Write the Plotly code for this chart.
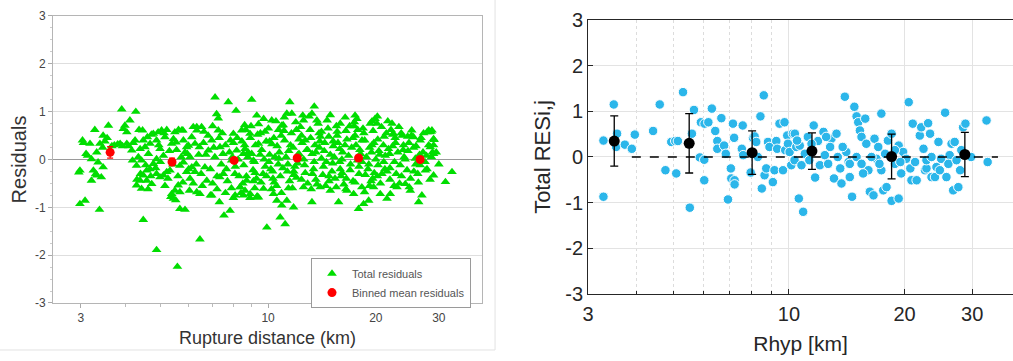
import math
import plotly.graph_objects as go

# ---------------- Left panel data: total residuals (green triangles) ----------------
tri_dist = [
    3.90, 4.27, 4.11, 3.98, 4.03, 3.94, 3.58, 3.28, 3.03, 3.46,
    3.39, 3.32, 3.18, 3.10, 3.21, 2.98, 3.25, 3.32, 3.21, 3.46,
    3.35, 2.98, 3.08, 3.38, 3.86, 4.03, 4.16, 4.25, 4.46, 4.48,
    4.53, 4.39, 4.34, 4.18, 4.29, 4.43, 4.63, 4.68, 4.78, 4.88,
    4.93, 5.04, 5.15, 5.21, 5.38, 5.44, 5.49, 5.53, 5.74, 5.80,
    5.86, 5.99, 6.12, 6.25, 6.32, 4.99, 5.10, 4.88, 4.78, 4.68,
    4.58, 4.48, 4.39, 4.29, 4.43, 4.58, 4.73, 4.88, 4.99, 5.10,
    5.21, 5.32, 5.67, 5.80, 5.92, 6.05, 6.12, 6.25, 5.38, 5.44,
    5.49, 5.67, 5.61, 5.67, 5.86, 6.03, 6.32, 4.48, 4.88, 5.58,
    3.50, 3.45, 3.05, 3.13, 3.55, 2.96, 3.30, 3.42, 3.66, 3.72,
    3.80, 3.92, 4.08, 4.20, 4.36, 4.60, 4.72, 4.95, 5.12, 5.30,
    5.55, 5.72, 5.95, 4.40, 4.55, 4.70, 4.85, 5.00, 5.25, 5.60,
    5.78, 6.00, 5.35, 5.52, 4.62, 4.30, 5.15, 6.18, 5.42, 5.62,
    6.45, 6.66, 6.81, 6.74, 6.96, 7.11, 7.18, 7.26, 7.34, 7.31,
    7.50, 7.53, 7.74, 7.83, 7.91, 8.00, 8.08, 8.14, 8.17, 8.35,
    8.44, 8.53, 8.71, 8.90, 9.00, 9.10, 9.30, 9.40, 6.18, 6.32,
    6.52, 6.43, 6.45, 6.05, 5.92, 5.78, 7.26, 6.96, 8.09, 8.53,
    9.32, 9.40, 7.33, 6.60, 6.70, 6.90, 7.00, 7.10, 7.20, 7.30,
    7.40, 7.60, 7.70, 7.80, 7.90, 8.00, 8.10, 8.20, 8.30, 6.30,
    6.40, 6.50, 6.80, 7.00, 7.45, 7.65, 7.95, 8.25, 6.55, 6.90,
    7.20, 7.60, 8.40, 8.00, 9.92, 6.62, 7.05, 7.48, 7.85, 8.60,
    11.50, 11.28, 11.65, 13.46, 13.26, 14.92, 17.50, 19.90, 20.15, 22.20,
    25.20, 28.10, 28.70, 29.00, 25.50, 23.70, 22.40, 9.30, 10.24, 10.92,
    12.56, 13.69, 15.91, 19.30, 8.35, 8.62, 8.91, 9.40, 9.71, 10.35,
    10.58, 10.81, 10.92, 11.16, 11.28, 11.78, 12.56, 13.26, 13.99, 14.92,
    15.74, 16.61, 17.34, 17.90, 18.49, 19.10, 19.72, 20.58, 21.49, 21.95,
    22.92, 24.18, 24.97, 26.35, 26.90, 32.65, 31.30, 29.00, 27.50, 29.00,
    28.40, 27.80, 28.30, 29.10, 28.80,
    8.45, 8.55, 8.62, 8.70, 8.78, 8.50, 8.66,
    8.92, 9.00, 9.08, 9.15, 9.22, 9.28, 8.96, 9.18,
    9.52, 9.60, 9.68, 9.75, 9.82, 9.88, 9.56, 9.72,
    10.02, 10.10, 10.18, 10.25, 10.32, 10.38, 10.06, 10.22,
    10.52, 10.60, 10.68, 10.75, 10.82, 10.88, 10.56, 10.72,
    11.02, 11.12, 11.22, 11.32, 11.42, 11.48, 11.08, 11.36,
    11.62, 11.75, 11.88, 12.00, 12.12, 12.20, 11.70, 11.95,
    12.32, 12.45, 12.58, 12.70, 12.82, 12.90, 12.40, 12.65,
    13.02, 13.15, 13.28, 13.40, 13.52, 13.60, 13.10, 13.45,
    13.80, 13.95, 14.10, 14.22, 14.35, 14.48, 13.88, 14.28,
    14.62, 14.78, 14.92, 15.08, 15.22, 15.38, 14.70, 15.15,
    15.52, 15.68, 15.85, 16.00, 16.15, 16.28, 15.60, 16.08,
    16.42, 16.60, 16.78, 16.95, 17.12, 17.28, 16.50, 17.00,
    17.42, 17.60, 17.78, 17.95, 18.12, 18.28, 17.50, 18.05,
    18.42, 18.62, 18.82, 19.02, 19.22, 19.40, 18.52, 19.12,
    19.52, 19.75, 20.00, 20.20, 20.40, 20.60, 19.65, 20.30,
    20.75, 21.00, 21.25, 21.50, 21.70, 21.90, 21.10,
    22.05, 22.30, 22.55, 22.80, 23.05, 23.30, 22.65,
    23.55, 23.85, 24.15, 24.45, 24.75, 25.00,
    25.15, 25.50, 25.85, 26.20, 26.50, 26.60,
    26.75, 27.10, 27.45, 27.80, 28.10, 28.35,
    28.55, 29.00, 29.50, 30.00,
    8.80, 9.35, 9.90, 10.45, 11.00, 11.55, 12.10, 12.70, 13.30, 13.90,
    14.55, 15.20, 15.85, 16.55, 17.25, 17.95, 18.70, 19.45, 20.25, 21.05,
    21.85, 22.70, 23.60, 24.55, 25.55, 26.60, 27.70, 9.10, 10.70, 12.40,
    14.10, 15.90, 17.80, 19.80, 21.90, 24.00, 11.80, 13.60, 15.50, 17.50,
    19.50, 21.40, 23.20, 25.80, 10.30, 12.00, 14.80, 16.40, 18.30, 20.80,
    8.60, 9.20, 9.80, 10.40, 11.10, 11.80, 12.50, 13.20, 14.00, 14.80,
    15.60, 16.50, 17.40, 18.30, 19.20, 20.20, 21.20, 22.30, 23.40, 24.60,
    25.90, 27.20, 9.50, 10.90, 12.20, 13.70, 15.30, 16.90, 18.60, 20.50,
    22.50, 24.80, 8.90, 10.10, 11.40, 12.90, 14.40, 16.10, 17.70, 19.60,
    21.60, 23.90, 26.30, 28.60,
]
tri_resid = [
    1.05, 1.00, 0.82, 0.71, 0.57, 0.64, 0.71, 0.62, 0.40, 0.50,
    0.33, 0.15, 0.33, 0.12, 0.01, -0.23, -0.23, -0.33, -0.44, -0.16,
    -0.06, -0.93, -0.86, -1.05, 0.33, 0.33, 0.19, 0.40, 0.61, 0.40,
    0.26, 0.22, 0.05, -0.02, -0.13, -0.02, 0.12, 0.33, 0.54, 0.40,
    0.57, 0.61, 0.47, 0.62, 0.33, 0.43, 0.57, 0.36, 0.61, 0.40,
    0.15, 0.29, 0.47, 0.33, 0.61, 0.22, 0.08, 0.01, -0.09, -0.20,
    -0.23, -0.33, -0.44, -0.54, -0.61, -0.44, -0.51, -0.30, -0.37, -0.33,
    -0.26, -0.23, -0.13, -0.06, -0.26, -0.40, -0.16, -0.26, -0.72, -0.82,
    -0.65, -0.68, -0.54, -1.03, -1.05, -0.65, -0.68, -1.26, -1.89, -2.24,
    0.38, 0.25, 0.35, 0.08, 0.45, -0.27, -0.30, -0.37, 0.28, 0.30,
    0.32, 0.28, 0.28, 0.35, 0.62, 0.47, 0.52, 0.30, 0.55, 0.18,
    0.20, 0.05, 0.12, -0.30, -0.12, -0.35, -0.18, -0.05, -0.40, -0.35,
    -0.48, -0.20, -0.78, -0.85, -0.62, -0.42, -0.55, -0.50, -0.10, 0.62,
    -1.67, -0.16, 0.19, -0.44, 0.40, 1.30, 0.95, 0.61, 0.26, -0.89,
    -0.30, -1.17, 1.20, -1.07, -0.02, 0.54, -0.30, 1.02, 0.19, -0.58,
    0.61, 0.12, -0.44, 0.54, 1.25, -0.02, -0.79, 0.33, 0.68, 0.68,
    0.68, 0.26, -0.72, 0.05, 0.26, 0.61, 0.86, -0.75, -0.75, -0.75,
    -0.77, 0.74, -0.37, 0.35, 0.10, -0.20, -0.50, 0.05, -0.35, 0.45,
    -0.10, 0.30, -0.45, 0.15, -0.60, 0.35, -0.15, 0.45, -0.35, -0.10,
    0.10, -0.30, 0.50, 0.70, 0.55, -0.20, 0.05, 0.00, -0.55, -0.75,
    -0.62, -0.70, -0.70, -0.80, -1.42, 0.58, 0.25, 0.12, 0.40, 0.30,
    1.20, 0.96, 0.96, 1.11, 0.96, 0.93, 0.92, 0.85, 0.75, 0.75,
    0.61, 0.61, 0.61, 0.43, 0.47, 0.50, 0.54, 0.92, 0.82, 0.71,
    0.82, 0.82, 0.75, 0.75, -0.58, -0.65, -0.72, -0.79, -0.61, -0.72,
    -0.86, -1.21, -0.96, -1.35, -0.86, -1.00, -0.58, -0.89, -0.58, -0.65,
    -0.89, -0.65, -0.72, -1.03, -0.93, -0.86, -0.58, -0.72, -0.82, -0.72,
    -0.58, -0.51, -0.65, -0.89, -0.75, -0.26, -0.47, -0.33, -0.23, 0.12,
    0.26, 0.57, 0.57, 0.41, 0.15,
    0.38, -0.12, 0.22, -0.35, 0.05, -0.50, 0.62,
    0.45, 0.12, -0.22, -0.05, 0.30, -0.40, 0.70, -0.60,
    0.55, 0.20, -0.30, 0.00, -0.15, 0.38, -0.48, 0.85,
    0.65, 0.10, -0.20, 0.32, -0.40, 0.45, -0.05, -0.62,
    0.80, 0.28, -0.10, 0.15, -0.35, 0.50, -0.55, 0.02,
    0.72, 0.40, 0.05, -0.25, 0.18, -0.45, 0.60, -0.10,
    0.55, 0.25, -0.15, -0.38, 0.10, 0.42, -0.60, 0.78,
    0.68, 0.35, 0.00, -0.28, 0.20, -0.50, 0.50, -0.12,
    0.90, 0.45, 0.12, -0.20, 0.30, -0.42, 0.62, -0.05,
    0.75, 0.38, 0.02, -0.32, 0.18, -0.55, 0.55, -0.15,
    0.82, 0.48, 0.10, -0.25, 0.28, -0.40, 0.65, -0.08,
    0.70, 0.35, -0.05, -0.35, 0.15, -0.52, 0.50, 0.00,
    0.88, 0.42, 0.08, -0.22, 0.25, -0.45, 0.60, -0.10,
    0.78, 0.30, -0.02, -0.30, 0.12, -0.58, 0.50, 0.20,
    0.65, 0.40, 0.05, -0.20, 0.25, -0.45, 0.55, -0.10,
    0.80, 0.35, 0.00, -0.35, 0.18, -0.50, 0.60, -0.12,
    0.68, 0.30, 0.08, -0.25, 0.22, -0.42, 0.48,
    0.62, 0.28, -0.05, -0.30, 0.15, -0.50, 0.45,
    0.55, 0.20, 0.00, -0.22, 0.35, -0.40,
    0.50, 0.25, -0.10, -0.30, 0.10, 0.40,
    0.45, 0.15, -0.05, -0.20, 0.30, -0.42,
    0.58, 0.30, 0.15, -0.10,
    0.15, 0.52, -0.35, 0.05, -0.18, 0.30, -0.08, 0.40, -0.30, 0.25,
    -0.05, 0.38, 0.22, -0.40, 0.45, -0.15, -0.32, 0.15, 0.42, -0.05,
    0.12, 0.35, -0.35, 0.48, -0.25, -0.12, 0.08, -0.45, 0.62, -0.42,
    0.58, -0.20, 0.62, -0.28, -0.18, 0.05, -0.25, 0.15, -0.58, -0.48,
    0.30, 0.55, 0.68, 0.02, -0.25, 0.62, -0.45, 0.30, -0.05, -0.30,
    0.72, -0.28, 0.58, -0.48, 0.88, -0.32, 0.92, -0.62, 0.48, -0.35,
    0.58, -0.62, 0.70, 0.40, -0.55, 0.90, -0.20, 0.52, -0.12, 0.18,
    0.28, 0.55, 0.10, -0.70, 0.12, -0.52, 0.05, 0.70, -0.68, 0.10,
    -0.55, -0.58, -0.80, 0.38, -0.60, 0.20, 0.35, -0.28, 0.85, -0.40,
    0.80, 0.30, -0.48, 0.05,
]

# Binned mean residuals (red)
bin_dist_left = [3.62, 5.39, 8.04, 12.06, 17.9, 26.6]
bin_mean_left = [0.15, -0.05, -0.02, 0.03, 0.03, 0.00]
bin_err_left = [0.12, 0.08, 0.04, 0.03, 0.03, 0.06]

# ---------------- Right panel data: Total RESi,j (blue circles) ----------------
res_rhyp = [
    3.29, 3.29, 3.50, 3.57, 3.55, 3.74, 3.90, 3.97, 4.43, 4.61,
    4.77, 4.94, 5.06, 5.14, 5.09, 5.30, 5.52, 5.59, 5.66, 5.86,
    5.90, 6.03, 6.02, 6.02, 6.17, 6.30, 6.43, 6.51, 6.51, 6.67,
    6.78, 6.85, 6.94, 7.06, 7.08, 7.15, 7.20, 7.22, 7.22, 7.54,
    7.58, 7.60, 7.95, 8.06, 8.14, 8.22, 8.30, 8.43, 8.50, 8.60,
    8.64, 8.73, 8.82, 8.90, 9.08, 9.17, 9.27, 9.32, 9.45, 9.65,
    9.74, 9.78, 9.90, 9.94, 10.04, 10.14, 10.24, 10.34, 10.45,
    10.36, 10.67, 10.61, 10.89, 10.78, 11.00, 11.20, 11.30, 11.60, 11.70,
    11.90, 12.04, 12.30, 12.40, 12.65, 12.90, 13.10, 13.30, 13.60, 13.70,
    13.98, 14.10, 14.30, 14.40, 14.60, 14.80, 15.00, 15.15, 15.30, 15.45,
    15.80, 15.90, 16.10, 16.24, 16.60, 16.70, 16.90, 17.08, 17.40, 17.40,
    17.60, 17.95, 18.10, 18.50, 18.50, 18.87, 19.30, 19.30, 19.60, 19.83,
    20.20, 20.50, 20.84, 21.00, 21.50, 21.91, 22.10, 22.40, 22.60, 22.80,
    23.03, 23.30, 23.50, 24.00, 24.21, 24.50, 24.90, 25.50, 25.70, 26.20,
    26.50, 26.76, 27.00, 27.60, 27.90, 28.40, 28.80, 29.80, 32.68, 32.90,
    10.50, 11.45, 12.50, 12.80, 13.40, 13.80, 14.40, 15.00, 15.45, 15.60,
    16.40, 17.20, 17.80, 18.87, 19.50, 20.70, 21.30, 22.80, 23.50, 24.70,
    26.00, 27.30, 28.10,
]
res_total = [
    -0.87, 0.36, 1.15, 0.51, 0.22, 0.27, 0.18, 0.49, 0.57, 1.15,
    -0.29, 0.33, 0.35, 0.35, -0.36, 1.42, -1.11, 0.51, 1.03, -0.01,
    0.76, 0.73, -0.06, -0.51, 0.76, 1.06, 0.57, 0.35, 0.18, 0.85,
    0.25, 0.07, -0.93, -0.25, -0.47, 0.73, 0.42, -0.51, -0.60, 0.18,
    0.69, 0.04, -0.34, 0.42, 0.45, 0.33, 0.00, 0.89, -0.69, 1.35,
    -0.40, -0.25, 0.33, 0.22, -0.55, -0.29, 0.35, 0.18, 0.73, -0.29,
    0.76, 0.15, 0.47, 0.29, 0.11, -0.18, 0.51, -0.07, 0.22,
    0.51, 0.25, -0.91, -1.20, -0.18, 0.07, 0.44, -0.07, 0.69, -0.45,
    0.35, -0.18, 0.55, 0.04, -0.15, 0.40, -0.47, 0.51, -0.25, -0.58,
    1.32, 0.11, -0.11, -0.44, -0.87, 1.10, 0.89, 0.76, 0.58, 0.44,
    0.84, 0.29, -0.29, -0.76, -0.84, 0.40, -0.04, 0.22, 0.95, -0.29,
    -0.73, -0.66, 0.36, 0.51, -0.96, -0.15, -0.91, 0.25, -0.36, 0.11,
    -0.04, 1.20, -0.51, 0.73, -0.51, 0.47, 0.65, 0.18, -0.29, -0.25,
    0.74, 0.51, -0.44, -0.44, -0.22, 0.33, -0.04, 0.97, -0.44, 0.04,
    0.29, -0.73, 0.33, -0.66, -0.29, 0.65, 0.73, 0.00, 0.80, -0.11,
    0.36, 0.29, 0.44, 0.22, 0.00, 0.22, -0.15, 0.00, -0.15, -0.36,
    0.00, -0.15, 0.07, 0.15, -0.11, -0.25, -0.11, -0.07, 0.00, -0.29,
    -0.15, -0.07, 0.15,
]

# Binned means (black) with error bars
bin_rhyp = [3.51, 5.50, 8.02, 11.48, 18.5, 28.7]
bin_mean_right = [0.35, 0.30, 0.095, 0.13, 0.01, 0.055]
bin_err_right = [0.55, 0.65, 0.475, 0.40, 0.49, 0.485]

# Zero reference line (right panel)
zero_line_x = [3.9, 35.0]
zero_line_y = [0.0, 0.0]

x_ticks = [3, 10, 20, 30]
x_ticktext = ["3", "10", "20", "30"]
y_ticks = [-3, -2, -1, 0, 1, 2, 3]
y_ticktext = ["-3", "-2", "-1", "0", "1", "2", "3"]
minor_x = [4, 5, 6, 7, 8, 9]

FONT = "Liberation Sans, Arial, sans-serif"

fig = go.Figure()

fig.add_trace(go.Scatter(
    x=tri_dist, y=tri_resid, mode="markers", name="Total residuals",
    marker=dict(symbol="triangle-up", size=8.5, color="#00dd00", line=dict(width=0)),
    xaxis="x", yaxis="y"))
fig.add_trace(go.Scatter(
    x=bin_dist_left, y=bin_mean_left, mode="markers", name="Binned mean residuals",
    marker=dict(symbol="circle", size=9, color="#ff0000"),
    error_y=dict(type="data", array=bin_err_left, color="#ff0000", thickness=1.2, width=3),
    xaxis="x", yaxis="y"))

fig.add_trace(go.Scatter(
    x=res_rhyp, y=res_total, mode="markers", showlegend=False,
    marker=dict(symbol="circle", size=9.5, color="#2bb6ea", line=dict(width=1, color="white")),
    xaxis="x2", yaxis="y2"))
fig.add_trace(go.Scatter(
    x=zero_line_x, y=zero_line_y, mode="lines", showlegend=False,
    line=dict(color="black", width=1.3, dash="dash"),
    xaxis="x2", yaxis="y2"))
fig.add_trace(go.Scatter(
    x=bin_rhyp, y=bin_mean_right, mode="markers", showlegend=False,
    marker=dict(symbol="circle", size=11, color="black"),
    error_y=dict(type="data", array=bin_err_right, color="black", thickness=1.3, width=4),
    xaxis="x2", yaxis="y2"))

fig.update_layout(
    width=1013, height=361,
    margin=dict(l=0, r=0, t=0, b=0),
    paper_bgcolor="white", plot_bgcolor="white",
    font=dict(family=FONT, color="#333333"),
    showlegend=True,
    legend=dict(x=0.307, y=0.285, xanchor="left", yanchor="top",
                bgcolor="white", bordercolor="#9a9a9a", borderwidth=1,
                font=dict(size=11, color="#555555"),
                tracegroupgap=0),
    xaxis=dict(
        type="log", range=[math.log10(2.506), math.log10(39.6)],
        domain=[0.0523, 0.4758], anchor="y",
        tickvals=x_ticks, ticktext=x_ticktext,
        ticks="outside", ticklen=4, tickcolor="#aaaaaa",
        minor=dict(tickvals=minor_x, ticks="outside", ticklen=3, tickcolor="#bbbbbb"),
        showline=True, linecolor="#b5b5b5", mirror=True, showgrid=False, zeroline=False,
        tickfont=dict(size=12, color="#444444"),
        title=dict(text="Rupture distance (km)", font=dict(size=18, color="#333333"), standoff=7),
        automargin=False),
    yaxis=dict(
        range=[-3, 3], domain=[0.1607, 0.9557], anchor="x",
        tickvals=y_ticks, ticktext=y_ticktext, ticks="outside", ticklen=4, tickcolor="#aaaaaa",
        minor=dict(dtick=0.25, ticks="outside", ticklen=2, tickcolor="#cccccc"),
        showline=True, linecolor="#b5b5b5", mirror=True,
        showgrid=True, gridcolor="#dedede", gridwidth=1,
        zeroline=True, zerolinecolor="#9a9a9a", zerolinewidth=1.3,
        tickfont=dict(size=12, color="#444444"),
        title=dict(text="Residuals", font=dict(size=20, color="#333333"), standoff=2),
        automargin=False),
    xaxis2=dict(
        type="log", range=[math.log10(3), math.log10(38.3)],
        domain=[0.5805, 1.0], anchor="y2",
        tickvals=x_ticks, ticktext=x_ticktext,
        ticks="inside", ticklen=5, tickcolor="#262626",
        minor=dict(tickvals=minor_x, ticks="inside", ticklen=3, tickcolor="#262626",
                   showgrid=True, gridcolor="#dcdcdc", griddash="dot", gridwidth=1),
        showline=True, linecolor="#262626", mirror=True,
        showgrid=True, gridcolor="#e3e3e3", zeroline=False,
        tickfont=dict(size=20, color="#262626"),
        ticklabelstandoff=2,
        title=dict(text="Rhyp [km]", font=dict(size=21, color="#262626"), standoff=12),
        automargin=False),
    yaxis2=dict(
        range=[-3, 3], domain=[0.1856, 0.9446], anchor="x2",
        tickvals=y_ticks, ticktext=y_ticktext, ticks="inside", ticklen=5, tickcolor="#262626",
        showline=True, linecolor="#262626", mirror=True,
        showgrid=True, gridcolor="#e3e3e3", zeroline=False,
        tickfont=dict(size=20, color="#262626"),
        title=dict(text="Total RESi,j", font=dict(size=22, color="#262626"), standoff=8),
        automargin=False),
    shapes=[
        dict(type="line", xref="paper", yref="paper", x0=0.4887, x1=0.4887, y0=0.0305, y1=1.0,
             line=dict(color="#e2e2e2", width=1)),
        dict(type="line", xref="paper", yref="paper", x0=0.0, x1=0.4887, y0=0.0305, y1=0.0305,
             line=dict(color="#e2e2e2", width=1)),
    ],
)

fig.write_html("out.html")
